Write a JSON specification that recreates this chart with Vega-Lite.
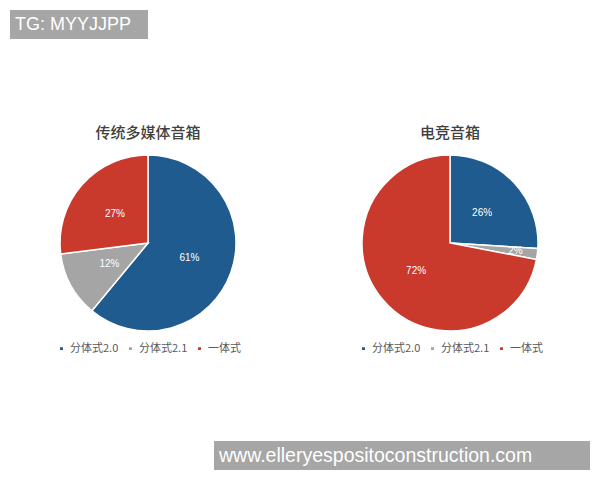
{
  "$schema": "https://vega.github.io/schema/vega-lite/v6.json",
  "padding": {"left": 10, "top": 10, "right": 0, "bottom": 0},
  "background": "white",
  "config": {
    "view": {"stroke": null},
    "font": "Noto Sans CJK SC",
    "title": {"font": "Noto Sans CJK SC", "fontSize": 15, "fontWeight": 500, "color": "#404040", "offset": 10},
    "legend": {"layout": {"bottom": {"anchor": "middle"}}}
  },
  "datasets": {
    "pies": [
      {"chart": "传统多媒体音箱", "type": "分体式2.0", "k": 1, "v": 0.61},
      {"chart": "传统多媒体音箱", "type": "分体式2.1", "k": 2, "v": 0.12},
      {"chart": "传统多媒体音箱", "type": "一体式", "k": 3, "v": 0.27},
      {"chart": "电竞音箱", "type": "分体式2.0", "k": 1, "v": 0.26},
      {"chart": "电竞音箱", "type": "分体式2.1", "k": 2, "v": 0.02},
      {"chart": "电竞音箱", "type": "一体式", "k": 3, "v": 0.72}
    ]
  },
  "vconcat": [
    {
      "width": 138,
      "height": 29,
      "view": {"fill": "#a6a6a6", "stroke": null},
      "data": {"values": [{"t": "TG: MYYJJPP"}]},
      "mark": {"type": "text", "font": "Liberation Sans", "fontSize": 18, "color": "white", "align": "left", "baseline": "middle"},
      "encoding": {"text": {"field": "t"}, "x": {"value": 5}}
    },
    {
      "hconcat": [
        {
          "title": "传统多媒体音箱",
          "width": 276,
          "height": 184,
          "data": {"name": "pies"},
          "transform": [{"filter": "datum.chart === '传统多媒体音箱'"}],
          "encoding": {
            "theta": {"field": "v", "type": "quantitative", "stack": true},
            "order": {"field": "k", "type": "ordinal"},
            "color": {
              "field": "type", "type": "nominal",
              "scale": {"domain": ["分体式2.0", "分体式2.1", "一体式"], "range": ["#1f5b8e", "#a5a5a5", "#c9392c"]},
              "legend": {"orient": "bottom", "direction": "horizontal", "title": null, "symbolType": "square", "symbolSize": 20, "labelFontSize": 11, "labelColor": "#595959", "columnPadding": 6, "labelOffset": 3, "offset": 8}
            }
          },
          "layer": [
            {"mark": {"type": "arc", "outerRadius": 88, "stroke": "white", "strokeWidth": 1.5}},
            {"mark": {"type": "text", "radius": 44, "fontSize": 10, "font": "Liberation Sans"},
             "encoding": {"color": {"value": "white"}, "text": {"field": "v", "type": "quantitative", "format": ".0%"}}}
          ]
        },
        {
          "title": "电竞音箱",
          "width": 276,
          "height": 184,
          "data": {"name": "pies"},
          "transform": [{"filter": "datum.chart === '电竞音箱'"}],
          "encoding": {
            "theta": {"field": "v", "type": "quantitative", "stack": true},
            "order": {"field": "k", "type": "ordinal"},
            "color": {
              "field": "type", "type": "nominal",
              "scale": {"domain": ["分体式2.0", "分体式2.1", "一体式"], "range": ["#1f5b8e", "#a5a5a5", "#c9392c"]},
              "legend": {"orient": "bottom", "direction": "horizontal", "title": null, "symbolType": "square", "symbolSize": 20, "labelFontSize": 11, "labelColor": "#595959", "columnPadding": 6, "labelOffset": 3, "offset": 8}
            }
          },
          "layer": [
            {"mark": {"type": "arc", "outerRadius": 88, "stroke": "white", "strokeWidth": 1.5}},
            {"mark": {"type": "text", "radius": 44, "fontSize": 10, "font": "Liberation Sans"},
             "encoding": {"color": {"value": "white"}, "text": {"condition": {"test": "datum.v >= 0.05", "field": "v", "type": "quantitative", "format": ".0%"}, "value": ""}}},
            {"mark": {"type": "text", "radius": 66, "fontSize": 10, "font": "Liberation Sans"},
             "encoding": {"color": {"value": "white"}, "text": {"condition": {"test": "datum.v < 0.05", "field": "v", "type": "quantitative", "format": ".0%"}, "value": ""}}}
          ]
        }
      ],
      "spacing": 26,
      "resolve": {"scale": {"color": "independent", "theta": "independent"}, "legend": {"color": "independent"}}
    },
    {
      "hconcat": [
        {
          "width": 184,
          "height": 29,
          "data": {"values": []},
          "mark": "point",
          "encoding": {}
        },
        {
          "width": 376,
          "height": 29,
          "view": {"fill": "#a6a6a6", "stroke": null},
          "data": {"values": [{"t": "www.elleryespositoconstruction.com"}]},
          "mark": {"type": "text", "font": "Liberation Sans", "fontSize": 19.5, "color": "white", "align": "left", "baseline": "middle"},
          "encoding": {"text": {"field": "t"}, "x": {"value": 5}}
        }
      ],
      "spacing": 20
    }
  ],
  "spacing": 87
}
